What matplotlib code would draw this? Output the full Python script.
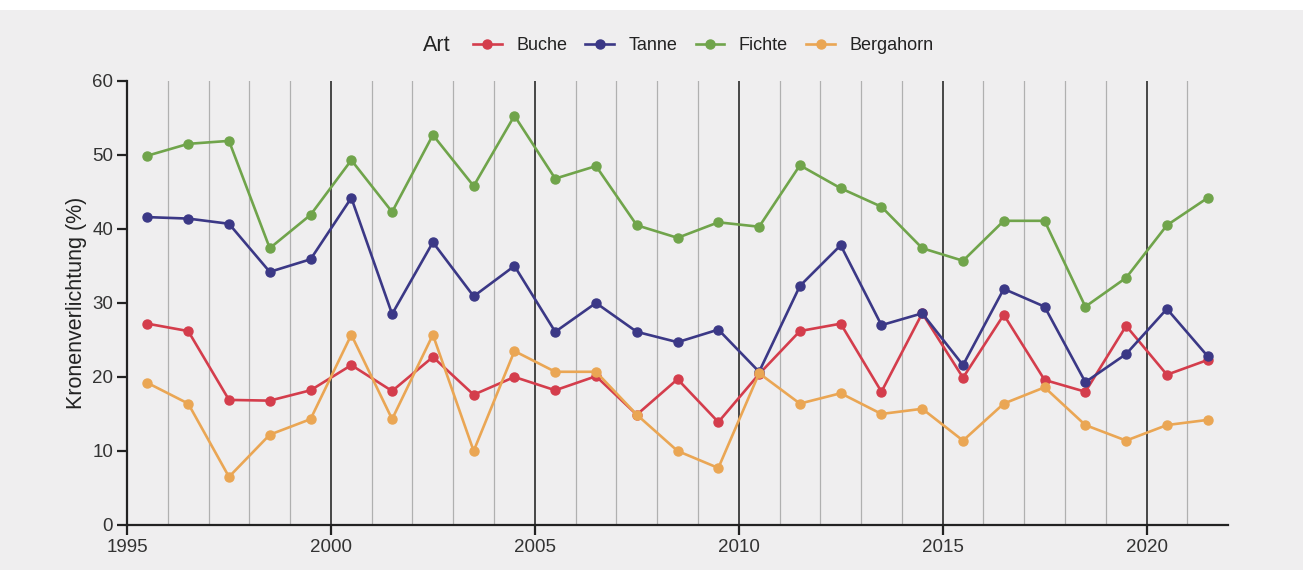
import matplotlib
matplotlib.use("Agg")
import matplotlib.pyplot as plt
from matplotlib.lines import Line2D
from matplotlib.patches import Rectangle
from matplotlib.ticker import MultipleLocator

plt.rcParams['font.family'] = ['Liberation Sans', 'DejaVu Sans']

# Erhebungsjahre (Punkte in der Jahresmitte)
jahre = [y + 0.5 for y in range(1995, 2022)]

buche = [27.2, 26.2, 16.9, 16.8, 18.2, 21.6, 18.1, 22.7, 17.6, 20.0,
         18.2, 20.1, 14.9, 19.7, 13.9, 20.4, 26.2, 27.2, 18.0, 28.6,
         19.9, 28.4, 19.6, 18.0, 26.9, 20.3, 22.3]
tanne = [41.6, 41.4, 40.7, 34.2, 35.9, 44.2, 28.5, 38.2, 30.9, 35.0,
         26.1, 30.0, 26.1, 24.7, 26.4, 20.7, 32.3, 37.8, 27.0, 28.6,
         21.6, 31.9, 29.5, 19.3, 23.1, 29.2, 22.8]
fichte = [49.9, 51.5, 51.9, 37.4, 41.9, 49.3, 42.3, 52.7, 45.8, 55.3,
          46.8, 48.5, 40.5, 38.8, 40.9, 40.3, 48.6, 45.5, 43.0, 37.4,
          35.7, 41.1, 41.1, 29.5, 33.4, 40.5, 44.2]
bergahorn = [19.2, 16.4, 6.5, 12.2, 14.3, 25.7, 14.3, 25.7, 10.0, 23.5,
             20.7, 20.7, 14.9, 10.0, 7.7, 20.5, 16.4, 17.8, 15.0, 15.7,
             11.4, 16.4, 18.6, 13.5, 11.4, 13.5, 14.2]

arten = ['Buche', 'Tanne', 'Fichte', 'Bergahorn']
werte = [buche, tanne, fichte, bergahorn]
farben = ['#d43d4c', '#3b3886', '#70a44b', '#eaa654']

bg = '#efeeef'
fig = plt.figure(figsize=(13.03, 5.70), dpi=100, facecolor=bg)
fig.patches.append(Rectangle((0, 0.982), 1, 0.018, transform=fig.transFigure,
                             facecolor='white', edgecolor='none', zorder=0))
ax = fig.add_axes([0.0975, 0.079, 0.845, 0.779])
ax.set_facecolor(bg)

# senkrechte Jahreslinien, jedes fuenfte Jahr dunkel
for y in range(1996, 2022):
    if y % 5 == 0:
        ax.axvline(y, color='#2a2a2a', lw=1.2, zorder=1)
    else:
        ax.axvline(y, color='#b0b0b0', lw=0.9, zorder=1)

for name, vals, c in zip(arten, werte, farben):
    ax.plot(jahre, vals, color=c, lw=1.9, marker='o', markersize=6.5,
            label=name, zorder=3)

ax.set_xlim(1995, 2022)
ax.set_ylim(0, 60)
ax.xaxis.set_major_locator(MultipleLocator(5))
ax.yaxis.set_major_locator(MultipleLocator(10))
for s in ['top', 'right']:
    ax.spines[s].set_visible(False)
for s in ['left', 'bottom']:
    ax.spines[s].set_linewidth(1.6)
    ax.spines[s].set_color('#222222')
ax.tick_params(axis='both', length=7, width=1.6, color='#222222',
               labelsize=13.5, labelcolor='#333333', pad=3)
ax.set_ylabel('Kronenverlichtung (%)', fontsize=15.5, color='#222222', labelpad=4)

# Legende oben mit Titel links daneben
fig.text(0.3245, 0.92, 'Art', fontsize=15.5, color='#222222', va='center')
handles = [Line2D([], [], color=c, lw=1.9, marker='o', markersize=6.5) for c in farben]
ax.legend(handles, arten, loc='center left', bbox_to_anchor=(0.3505, 0.92),
          bbox_transform=fig.transFigure, ncol=4, frameon=False, fontsize=13,
          handlelength=1.6, handletextpad=0.8, columnspacing=1.0,
          labelcolor='#222222')

fig.savefig('out.png', dpi=100, facecolor=bg)
